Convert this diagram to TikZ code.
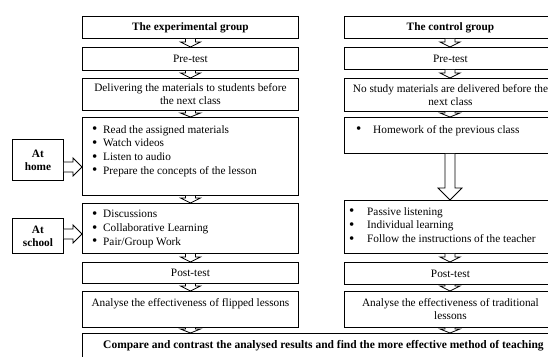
\documentclass[tikz,border=0pt]{standalone}
\usepackage{fontspec}
\setmainfont{Liberation Serif}
\usetikzlibrary{calc}
\tikzset{
  box/.style={draw, line width=0.9pt, rectangle, inner sep=0pt, anchor=north west, align=center, font=\fontsize{11.3}{13}\selectfont},
  listtext/.style={anchor=north west, inner sep=0pt, align=left, font=\fontsize{11.3}{13.7}\selectfont},
  harrow/.style={draw, line width=0.8pt, fill=white, line join=miter},
}
% #1 node name, #2 x, #3 y (top-left), #4 width, #5 height, #6 text
\newcommand{\bx}[6]{\node[box, minimum width=#4pt, minimum height=#5pt] (#1) at (#2,#3) {#6};}
% down hollow arrow: #1 head length, #2 head half width, #3 start, #4 tip
\newcommand{\dnarrow}[4]{%
  \draw[harrow] ($#3+(-5,0)$) -- ($#4+(-5,-#1)$) -- ($#4+(-#2,-#1)$) -- #4 -- ($#4+(#2,-#1)$) -- ($#4+(5,-#1)$) -- ($#3+(5,0)$);}
% right hollow arrow: #1 start, #2 tip
\newcommand{\rtarrow}[2]{%
  \draw[harrow] ($#1+(0,-5)$) -- ($#2+(-9,-5)$) -- ($#2+(-9,-9)$) -- #2 -- ($#2+(-9,9)$) -- ($#2+(-9,5)$) -- ($#1+(0,5)$);}
\newcommand{\blt}[1]{\makebox[#1pt][l]{{\fontsize{15}{15}\selectfont\raisebox{-0.8pt}{\textbullet}}}}
\begin{document}
\begin{tikzpicture}[x=1pt,y=-1pt]
\clip (0,0) rectangle (548,356);
\fill[white] (0,0) rectangle (548,356);
% left column
\bx{exp}{82}{16}{216}{22}{\textbf{The experimental group}}
\bx{pre1}{82}{47}{216}{23}{Pre-test}
\bx{deliv}{82}{78}{216}{32}{Delivering the materials to students before\\the next class}
\bx{homeb}{82}{117}{216}{78}{}
\bx{schoolb}{82}{203}{216}{50}{}
\bx{post1}{82}{262}{216}{21}{Post-test}
\bx{anal1}{82}{291}{216}{36}{Analyse the effectiveness of flipped lessons\\\mbox{}}
% right column
\bx{ctrl}{344}{16}{212}{22}{\textbf{The control group}}
\bx{pre2}{344}{47}{212}{22}{Pre-test}
\bx{nostudy}{344}{78}{212}{33}{No study materials are delivered before the\\next class}
\bx{hw}{344}{117}{212}{36}{}
\bx{passive}{344}{200}{212}{53}{}
\bx{post2}{344}{262}{212}{22}{Post-test}
\bx{anal2}{344}{291}{212}{36}{Analyse the effectiveness of traditional\\lessons}
% bottom
\bx{compare}{82}{333}{482}{25}{\fontsize{11.5}{13}\selectfont\textbf{Compare and contrast the analysed results and find the more effective method of teaching}}
% side boxes
\bx{home}{12}{139}{51}{41}{\textbf{At}\\\textbf{home}}
\bx{school}{12}{218}{51}{35}{\textbf{At}\\\textbf{school}}
% lists
\node[listtext] (homelist) at (92,125) {\blt{11}Read the assigned materials\\\blt{11}Watch videos\\\blt{11}Listen to audio\\\blt{11}Prepare the concepts of the lesson};
\node[listtext] (schoollist) at (92,210) {\blt{11}Discussions\\\blt{11}Collaborative Learning\\\blt{11}Pair/Group Work};
\node[listtext] (hwlist) at (356,125) {\blt{17}Homework of the previous class};
\node[listtext] (passivelist) at (349,207) {\blt{18}Passive listening\\\blt{18}Individual learning\\\blt{18}Follow the instructions of the teacher};
% down arrows left
\dnarrow{5}{10}{(exp.south)}{(pre1.north)}
\dnarrow{5}{10}{(pre1.south)}{(deliv.north)}
\dnarrow{4}{10}{(deliv.south)}{(homeb.north)}
\dnarrow{5}{10}{(homeb.south)}{(schoolb.north)}
\dnarrow{5}{10}{(schoolb.south)}{(post1.north)}
\dnarrow{5}{10}{(post1.south)}{(anal1.north)}
\dnarrow{4}{10}{(anal1.south)}{(compare.north -| anal1.south)}
% down arrows right
\coordinate (rc) at (450,0);
\dnarrow{5}{10}{(rc |- ctrl.south)}{(rc |- pre2.north)}
\dnarrow{5}{10}{(rc |- pre2.south)}{(rc |- nostudy.north)}
\dnarrow{4}{10}{(rc |- nostudy.south)}{(rc |- hw.north)}
\dnarrow{12}{12}{(rc |- hw.south)}{(rc |- passive.north)}
\dnarrow{5}{10}{(rc |- passive.south)}{(rc |- post2.north)}
\dnarrow{5}{10}{(rc |- post2.south)}{(rc |- anal2.north)}
\dnarrow{4}{10}{(rc |- anal2.south)}{(rc |- compare.north)}
% side arrows
\coordinate (ha) at ($(home.east)+(0,7)$);
\coordinate (sa) at ($(school.east)+(0,-2)$);
\rtarrow{(ha)}{(ha -| homeb.west)}
\rtarrow{(sa)}{(sa -| schoolb.west)}
\end{tikzpicture}
\end{document}
